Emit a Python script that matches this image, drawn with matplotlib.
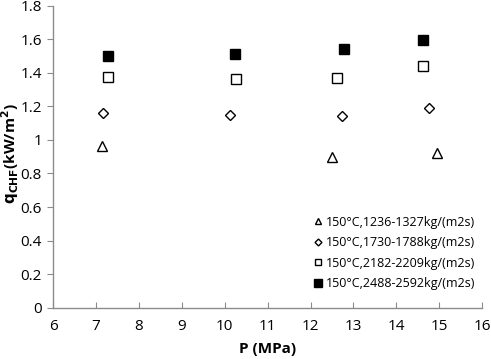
import matplotlib
matplotlib.use("Agg")
import matplotlib.pyplot as plt

plt.rcParams['font.family'] = ['Open Sans', 'DejaVu Sans']

labels = ["150°C,1236-1327kg/(m2s)", "150°C,1730-1788kg/(m2s)",
          "150°C,2182-2209kg/(m2s)", "150°C,2488-2592kg/(m2s)"]
p_tri = [7.14, 12.5, 14.95]
q_tri = [0.965, 0.90, 0.925]
p_dia = [7.17, 10.13, 12.73, 14.77]
q_dia = [1.16, 1.15, 1.145, 1.19]
p_osq = [7.27, 10.26, 12.61, 14.63]
q_osq = [1.375, 1.365, 1.368, 1.44]
p_fsq = [7.29, 10.23, 12.77, 14.61]
q_fsq = [1.50, 1.512, 1.542, 1.597]

fig = plt.figure(figsize=(4.91, 3.59), dpi=100)
ax = fig.add_axes([0.108, 0.143, 0.874, 0.841])

ax.plot(p_tri, q_tri, ls='none', marker='^', ms=6.5, mfc='white', mec='black', mew=1.0, label=labels[0])
ax.plot(p_dia, q_dia, ls='none', marker='D', ms=5, mfc='white', mec='black', mew=1.0, label=labels[1])
ax.plot(p_osq, q_osq, ls='none', marker='s', ms=7, mfc='white', mec='black', mew=1.0, label=labels[2])
ax.plot(p_fsq, q_fsq, ls='none', marker='s', ms=7.5, mfc='black', mec='black', mew=1.0, label=labels[3])

ax.set_xlim(6, 16)
ax.set_ylim(0, 1.8)
ax.set_xticks(range(6, 17))
ax.set_yticks([0, 0.2, 0.4, 0.6, 0.8, 1, 1.2, 1.4, 1.6, 1.8])
ax.set_yticklabels(['0', '0.2', '0.4', '0.6', '0.8', '1', '1.2', '1.4', '1.6', '1.8'])

for s in ['top', 'right']:
    ax.spines[s].set_visible(False)
for s in ['left', 'bottom']:
    ax.spines[s].set_color('#8c8c8c')
    ax.spines[s].set_linewidth(1.0)
ax.tick_params(axis='y', direction='out', length=4, color='#8c8c8c', labelsize=11, pad=4)
ax.tick_params(axis='x', direction='in', length=4, color='#8c8c8c', labelsize=11, pad=8)

ax.set_xlabel('P (MPa)', fontsize=11, fontweight='bold', labelpad=6)
ax.set_ylabel(r'$\mathbf{q_{CHF}}$(kW/m$^{\mathbf{2}}$)', fontsize=11, fontweight='bold')
ax.yaxis.set_label_coords(-0.075, 0.51)

leg = ax.legend(loc='lower right', bbox_to_anchor=(1.01, 0.02), frameon=False, fontsize=9,
                markerscale=0.7, handlelength=0.6, handletextpad=0.3, labelspacing=0.6)

fig.savefig('out.png', dpi=100)
